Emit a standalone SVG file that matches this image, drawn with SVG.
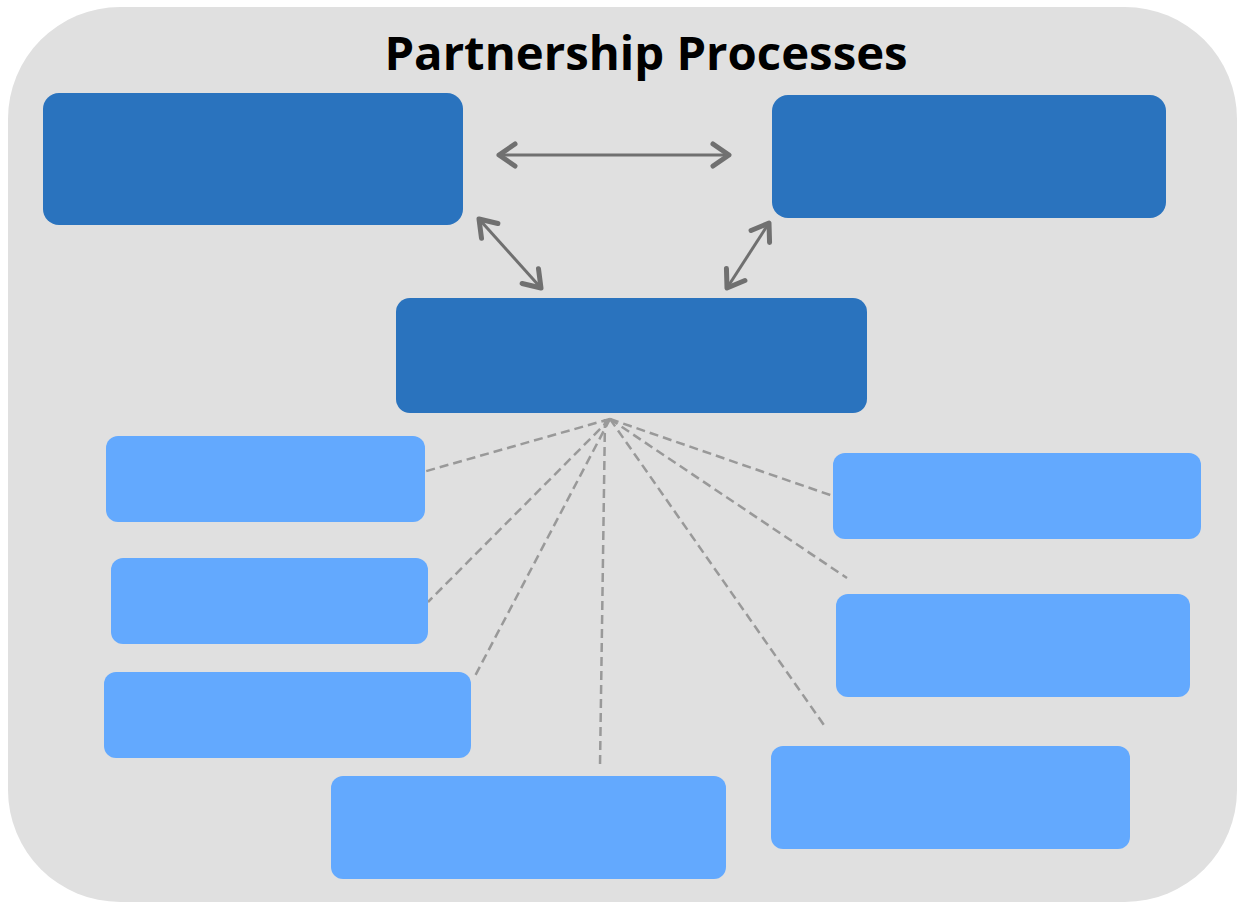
<svg xmlns="http://www.w3.org/2000/svg" width="1238" height="903" viewBox="0 0 1238 903">
<defs>
<style>
.dark{fill:#2A73BE}
.light{fill:#63A9FE}
.arr{stroke:#707070;stroke-width:3;fill:none;marker-start:url(#ah);marker-end:url(#ah)}
.dash{stroke:#999999;stroke-width:2.5;fill:none;stroke-dasharray:9 5}
.title{font-family:"Open Sans","Liberation Sans",sans-serif;font-weight:bold;font-size:47.3px;fill:#000}
</style>
<marker id="ah" viewBox="0 0 24 28" refX="21" refY="14" markerWidth="24" markerHeight="28" markerUnits="userSpaceOnUse" orient="auto-start-reverse">
<path d="M5,3 L21,14 L5,25" fill="none" stroke="#707070" stroke-width="5" stroke-linecap="round" stroke-linejoin="round"/>
</marker>
</defs>
<rect width="1238" height="903" fill="#ffffff"/>
<rect x="8" y="7" width="1229" height="895" rx="112" fill="#E0E0E0"/>
<text class="title" x="646" y="70" text-anchor="middle">Partnership Processes</text>
<g id="connectors">
<line class="arr" x1="499" y1="155" x2="729" y2="155"/>
<line class="arr" x1="479" y1="219" x2="541" y2="288"/>
<line class="arr" x1="769" y1="223" x2="727" y2="288"/>
<line class="dash" x1="610" y1="419" x2="416" y2="474"/>
<line class="dash" x1="610" y1="419" x2="428" y2="602"/>
<line class="dash" x1="610" y1="419" x2="475" y2="676"/>
<line class="dash" x1="605" y1="419" x2="600" y2="766"/>
<line class="dash" x1="610" y1="419" x2="833" y2="496"/>
<line class="dash" x1="610" y1="419" x2="847" y2="578"/>
<line class="dash" x1="610" y1="419" x2="826" y2="728"/>
</g>
<g id="node-top-left"><rect class="dark" x="43" y="93" width="420" height="132" rx="16"/></g>
<g id="node-top-right"><rect class="dark" x="772" y="95" width="394" height="123" rx="16"/></g>
<g id="node-center"><rect class="dark" x="396" y="298" width="471" height="115" rx="14"/></g>
<g id="node-l1"><rect class="light" x="106" y="436" width="319" height="86" rx="12"/></g>
<g id="node-l2"><rect class="light" x="111" y="558" width="317" height="86" rx="12"/></g>
<g id="node-l3"><rect class="light" x="104" y="672" width="367" height="86" rx="12"/></g>
<g id="node-b"><rect class="light" x="331" y="776" width="395" height="103" rx="12"/></g>
<g id="node-r1"><rect class="light" x="833" y="453" width="368" height="86" rx="12"/></g>
<g id="node-r2"><rect class="light" x="836" y="594" width="354" height="103" rx="12"/></g>
<g id="node-r3"><rect class="light" x="771" y="746" width="359" height="103" rx="12"/></g>
</svg>
